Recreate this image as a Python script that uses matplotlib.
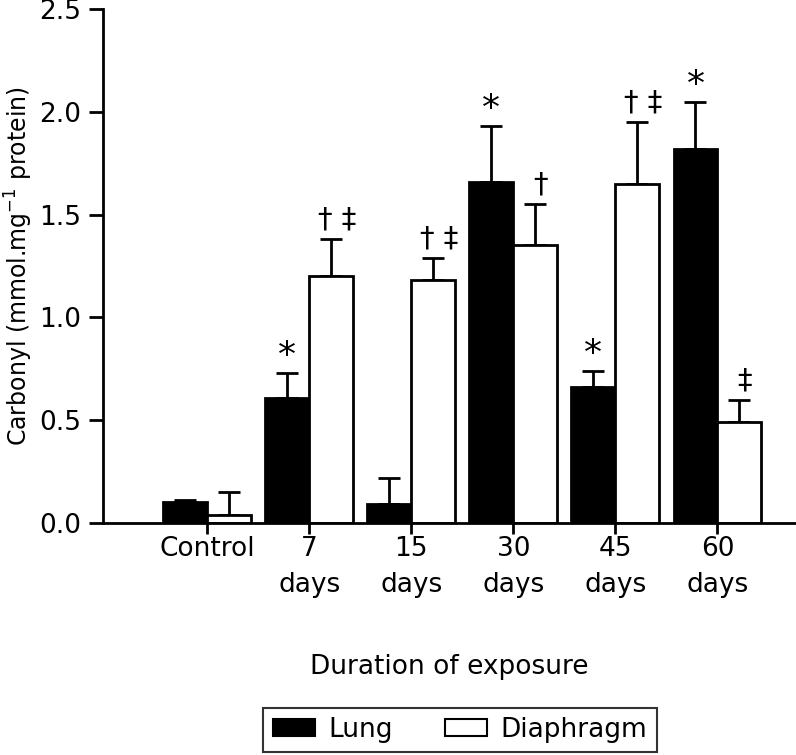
import numpy as np
import matplotlib.pyplot as plt
from matplotlib.patches import Patch

# data
groups = ['Control', '7\ndays', '15\ndays', '30\ndays', '45\ndays', '60\ndays']
lung = [0.10, 0.61, 0.09, 1.66, 0.66, 1.82]
lung_err = [0.01, 0.12, 0.13, 0.27, 0.08, 0.23]
diaphragm = [0.04, 1.20, 1.18, 1.35, 1.65, 0.49]
diaphragm_err = [0.11, 0.18, 0.11, 0.20, 0.30, 0.11]
lung_marks = ['', '*', '', '*', '*', '*']
diaphragm_marks = ['', '\u2020 \u2021', '\u2020 \u2021', '\u2020', '\u2020 \u2021', '\u2021']

plt.rcParams['font.family'] = 'DejaVu Sans'
fs = 19

fig = plt.figure(figsize=(7.96, 7.55), dpi=100)
ax = fig.add_axes([103/796, 1-523/755, 693/796, 514/755])

x = np.arange(len(groups))
w = 0.43
lw = 2
xl = x - w/2
xd = x + w/2

ax.bar(xl, lung, w, color='black', edgecolor='black', linewidth=lw,
       label='Lung', zorder=2)
ax.bar(xd, diaphragm, w, color='white', edgecolor='black', linewidth=lw,
       label='Diaphragm', zorder=2)

zero = np.zeros(len(x))
ax.errorbar(xl, lung, yerr=[zero, lung_err], fmt='none', ecolor='black',
            elinewidth=lw, capsize=8, capthick=lw, zorder=1)
ax.errorbar(xd, diaphragm, yerr=[zero, diaphragm_err], fmt='none',
            ecolor='black', elinewidth=lw, capsize=8, capthick=lw, zorder=1)

for i in range(len(x)):
    if lung_marks[i]:
        ax.annotate(lung_marks[i], (xl[i], lung[i] + lung_err[i]), xytext=(0, 0),
                    textcoords='offset points', ha='center', va='bottom', fontsize=26)
    if diaphragm_marks[i]:
        ax.annotate(diaphragm_marks[i], (xd[i], diaphragm[i] + diaphragm_err[i]),
                    xytext=(4, 4), textcoords='offset points', ha='center',
                    va='bottom', fontsize=21)

ax.set_xlim(-1.02, 5.77)
ax.set_ylim(0, 2.5)
ax.set_yticks([0.0, 0.5, 1.0, 1.5, 2.0, 2.5])
ax.set_yticklabels(['0.0', '0.5', '1.0', '1.5', '2.0', '2.5'], fontsize=fs)
ax.set_xticks(x)
ax.set_xticklabels(groups, fontsize=fs, va='top', linespacing=1.55)
ax.tick_params(axis='y', length=10, width=lw, pad=6)
ax.tick_params(axis='x', length=8, width=lw, pad=1)
for s in ['top', 'right']:
    ax.spines[s].set_visible(False)
for s in ['left', 'bottom']:
    ax.spines[s].set_linewidth(lw)

ax.set_ylabel('Carbonyl (mmol.mg$^{-1}$ protein)', fontsize=17, va='center')
ax.yaxis.set_label_coords(-0.122, 0.5)
ax.set_xlabel('Duration of exposure', fontsize=fs, labelpad=40)

handles = [Patch(facecolor='black', edgecolor='black', linewidth=1.5),
           Patch(facecolor='white', edgecolor='black', linewidth=1.5)]
leg = fig.legend(handles, ['Lung', 'Diaphragm'], ncol=2, loc='center',
                 bbox_to_anchor=(460/796, 1-730/755), fontsize=fs, frameon=True,
                 fancybox=False, edgecolor='black', handlelength=1.6, handleheight=0.6,
                 handletextpad=0.5, columnspacing=2.0, borderpad=0.35)
leg.get_frame().set_linewidth(1.5)

fig.savefig('out.png', dpi=100)
